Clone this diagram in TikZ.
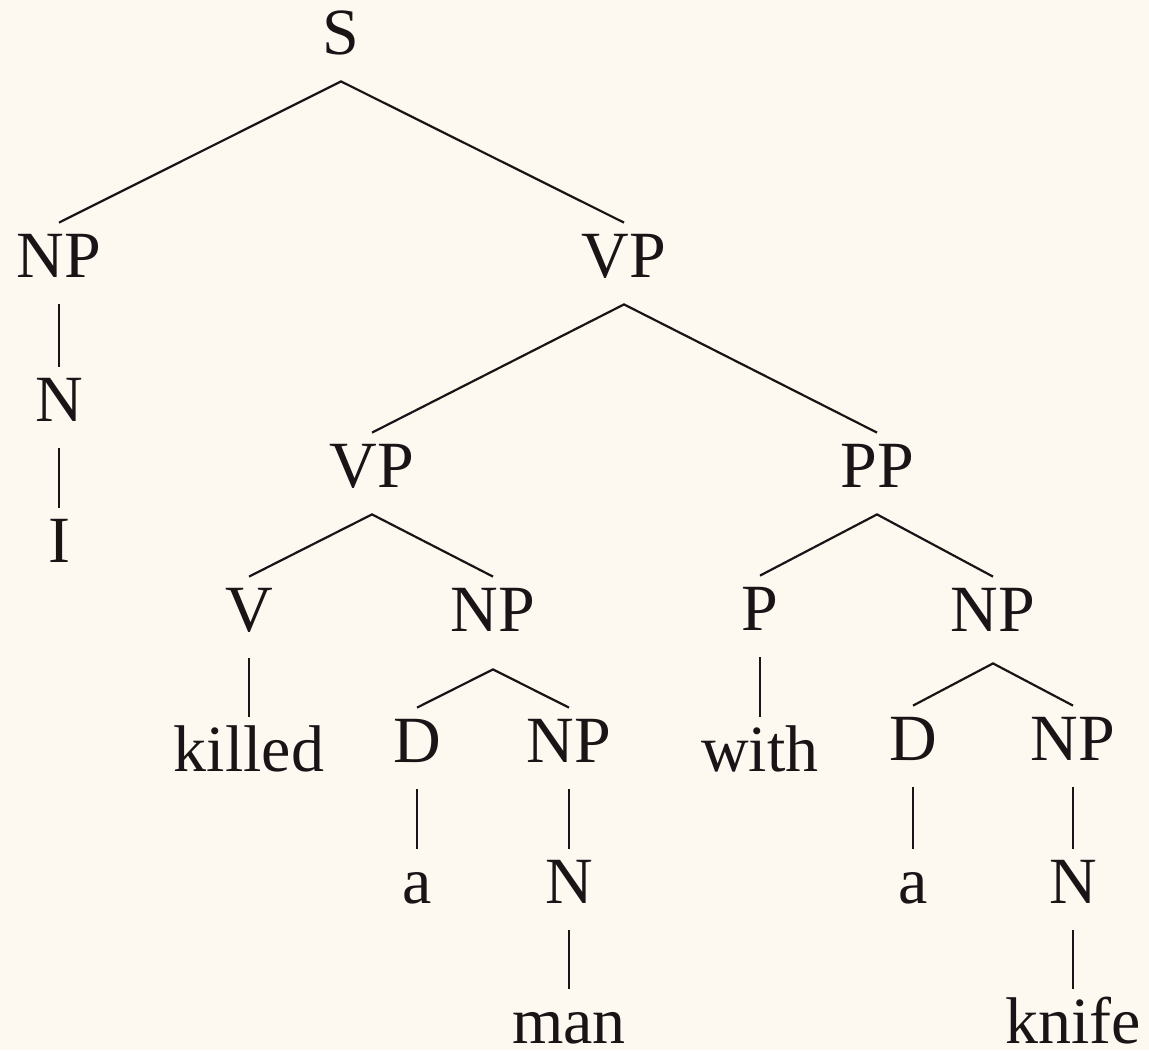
\documentclass[tikz,border=0pt]{standalone}
\usepackage{fontspec}
\setmainfont{Liberation Serif}
\definecolor{bg}{HTML}{FDF8F0}
\definecolor{ink}{HTML}{1A1417}
\tikzset{
  lab/.style={anchor=base, font=\fontsize{33}{40}\selectfont, text=ink,
    text height=25pt, text depth=11.5pt, inner sep=2pt, inner xsep=0pt},
  edge/.style={draw=ink, line width=1.1pt}
}
\begin{document}
\begin{tikzpicture}[x=0.5pt, y=-0.5pt]
\fill[bg] (0,0) rectangle (1149,1050);
\useasboundingbox (0,0) rectangle (1149,1050);
\node[lab] (S) at (341,54) {S};
\node[lab] (NP1) at (59,277) {NP};
\node[lab] (VP1) at (624,277) {VP};
\node[lab] (N1) at (59,421) {N};
\node[lab] (I) at (59,562) {I};
\node[lab] (VP2) at (372,487) {VP};
\node[lab] (PP) at (877,487) {PP};
\node[lab] (V) at (249,631) {V};
\node[lab, text depth=17pt] (NP2) at (493,631) {NP};
\node[lab] (P) at (760,630) {P};
\node[lab, text depth=14pt] (NP3) at (993,631) {NP};
\node[lab] (killed) at (249,771) {killed};
\node[lab] (D1) at (417,762) {D};
\node[lab] (NP4) at (569,762) {NP};
\node[lab] (with) at (760,771) {with};
\node[lab] (D2) at (913,760) {D};
\node[lab] (NP5) at (1073,760) {NP};
\node[lab] (a1) at (417,903) {a};
\node[lab] (N2) at (569,903) {N};
\node[lab] (a2) at (913,903) {a};
\node[lab] (N3) at (1073,903) {N};
\node[lab, text depth=0pt, inner ysep=0pt, text height=27pt] (man) at (569,1043) {man};
\node[lab, text depth=0pt, inner ysep=0pt, text height=27pt] (knife) at (1073,1043) {knife};
\draw[edge] (NP1.north) -- (S.south) -- (VP1.north);
\draw[edge] (NP1.south) -- (N1.north);
\draw[edge] (N1.south) -- (I.north);
\draw[edge] (VP2.north) -- (VP1.south) -- (PP.north);
\draw[edge] (V.north) -- (VP2.south) -- (NP2.north);
\draw[edge] (P.north) -- (PP.south) -- (NP3.north);
\draw[edge] (V.south) -- (killed.north);
\draw[edge] (P.south) -- (with.north);
\draw[edge] (D1.north) -- (NP2.south) -- (NP4.north);
\draw[edge] (D2.north) -- (NP3.south) -- (NP5.north);
\draw[edge] (D1.south) -- (a1.north);
\draw[edge] (NP4.south) -- (N2.north);
\draw[edge] (N2.south) -- (man.north);
\draw[edge] (D2.south) -- (a2.north);
\draw[edge] (NP5.south) -- (N3.north);
\draw[edge] (N3.south) -- (knife.north);
\end{tikzpicture}
\end{document}
